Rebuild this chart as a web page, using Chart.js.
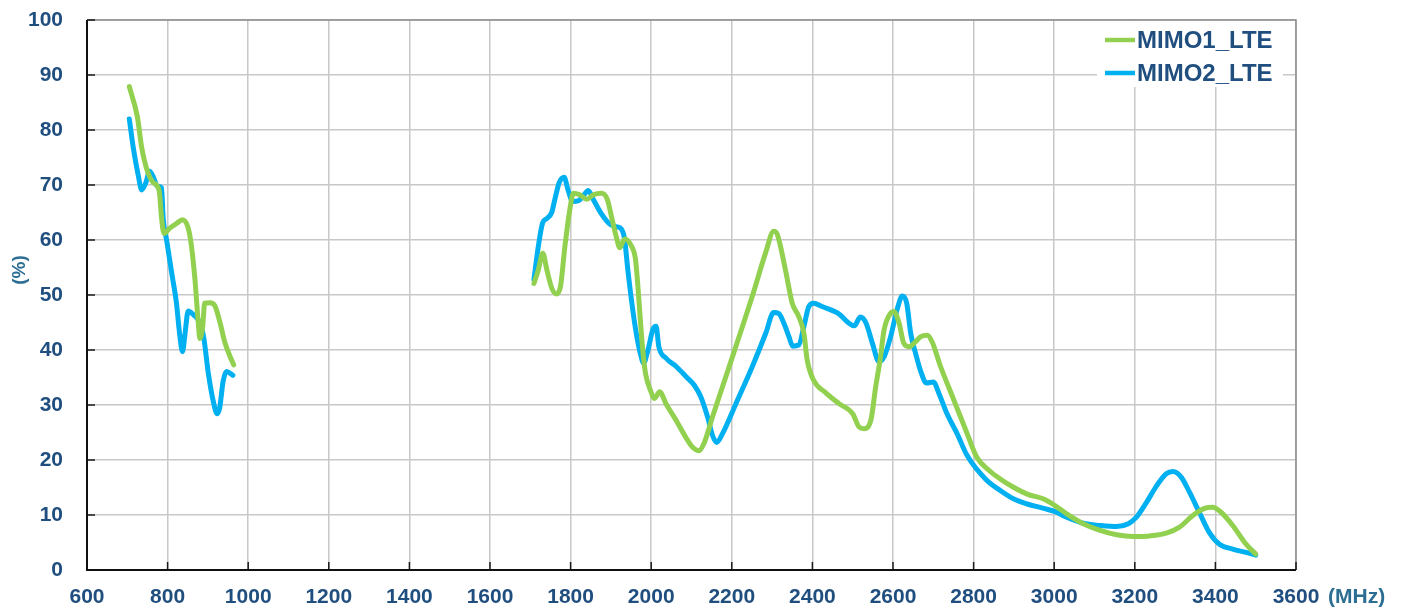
<!DOCTYPE html>
<html>
<head>
<meta charset="utf-8">
<script src="https://cdn.jsdelivr.net/npm/chart.js@4.4.1/dist/chart.umd.min.js"></script>
<style>
  html, body { margin: 0; padding: 0; background: #ffffff; }
  #wrap { width: 1408px; height: 611px; }
</style>
</head>
<body>
<div id="wrap"><canvas id="c" width="1408" height="611"></canvas></div>
<script>
// ---- data (MHz, %) ----
const seriesNames = ['MIMO1_LTE', 'MIMO2_LTE'];
const xTicks = [600, 800, 1000, 1200, 1400, 1600, 1800, 2000, 2200, 2400, 2600, 2800, 3000, 3200, 3400, 3600];
const yTicks = [0, 10, 20, 30, 40, 50, 60, 70, 80, 90, 100];

const mimo1Freq = [705,725,736,750,765,779,785,791,806,822,837,851,859,868,876,880,887,892,905,917,930,942,954,964,
  1300,
  1709,1720,1731,1741,1753,1765,1775,1786,1797,1807,1823,1840,1856,1877,1891,1901,1914,1922,1934,1951,1961,1967,1973,1979,1986,1998,
  2008,2021,2037,2062,2086,2103,2118,2132,2152,2185,2218,2251,2284,2304,2313,2333,2350,2366,2379,2387,2403,2432,2465,2500,
  2516,2528,2545,2557,2568,2578,2594,2602,2615,2627,2640,2656,2668,2685,2697,2718,2751,2784,2808,2840,2867,2900,2933,2974,
  3002,3031,3072,3114,3155,3196,3237,3278,3311,3344,3373,3393,3414,3443,3476,3500];
const mimo1Eff = [87.9,82.4,76.7,72.5,70.4,69.0,64.0,61.2,62.2,63.0,63.7,62.2,59.0,52.7,45.0,42.1,44.2,48.5,48.6,48.1,45.0,41.4,39.0,37.3,
  null,
  52.1,54.6,57.6,54.6,51.3,50.2,51.6,58.9,65.0,68.5,68.2,67.4,68.2,68.5,67.4,64.4,60.4,58.6,60.2,58.9,56.5,51.6,45.5,40.0,35.7,32.7,
  31.2,32.4,30.2,27.2,24.1,22.3,21.7,23.2,27.8,35.1,42.4,49.8,57.7,61.6,61.0,54.6,48.5,46.1,43.0,38.2,34.5,32.3,30.3,28.4,
  26.0,25.7,27.2,33.3,38.2,43.7,46.7,47.0,44.9,41.2,40.6,41.5,42.4,42.7,41.5,37.0,30.9,24.8,20.5,18.0,16.5,15.0,13.8,12.9,
  11.7,10.2,8.4,7.2,6.4,6.1,6.2,6.7,7.8,9.9,11.2,11.4,10.5,8.1,4.7,2.9];

const mimo2Freq = [705,715,727,736,746,755,765,774,785,789,798,810,822,830,837,843,851,864,880,890,901,913,923,929,938,946,962,
  1300,
  1709,1720,1731,1741,1753,1761,1772,1784,1794,1805,1819,1831,1844,1856,1877,1897,1914,1926,1934,1942,1951,1963,1975,1981,1992,
  2004,2012,2019,2037,2062,2086,2107,2123,2140,2152,2162,2177,2210,2251,2284,2304,2317,2329,2342,2351,2366,2379,2391,2403,2424,
  2463,2504,2519,2533,2549,2565,2578,2594,2610,2623,2634,2644,2656,2668,2683,2700,2714,2734,2759,2784,2830,2867,2900,2933,2974,
  3002,3031,3072,3114,3155,3184,3204,3229,3254,3278,3295,3316,3336,3360,3385,3410,3443,3476,3500];
const mimo2Eff = [82.0,76.7,71.8,69.1,70.4,72.5,71.4,69.8,69.5,64.0,59.8,54.1,48.5,42.8,39.7,42.8,47.1,46.4,45.0,42.1,35.8,30.8,28.4,29.4,34.4,36.1,35.4,
  null,
  52.8,58.9,63.2,63.9,65.0,67.4,70.5,71.4,69.0,67.0,67.1,68.0,69.0,67.4,64.7,62.9,62.4,62.0,60.1,54.6,49.1,43.0,38.8,37.6,40.0,
  43.7,44.3,40.6,38.5,37.0,35.2,33.6,31.5,27.8,24.5,23.2,24.8,30.2,37.0,43.0,46.8,46.6,44.9,42.4,40.7,40.9,44.3,47.9,48.5,47.9,
  46.7,44.4,46.0,44.9,41.2,37.9,38.8,42.4,47.3,49.8,48.5,43.0,39.4,36.3,34.0,34.2,32.1,28.4,24.8,20.8,16.5,14.4,12.9,12.0,11.2,
  10.6,9.6,8.5,8.1,7.9,8.4,9.6,12.3,15.3,17.5,17.9,16.8,14.1,10.5,6.8,4.7,3.8,3.2,2.7];

const colors = ['#92D050', '#00B0F0'];
const xUnit = '(MHz)';
const yUnit = '(%)';

function pts(fs, vs) { return fs.map((f, i) => ({ x: f, y: vs[i] })); }

const TEXT = '#1F4E7F';
const UNIT = '#2C6E93';
const GRID = '#C8C8C8';
const FONT = '"Liberation Sans", Arial, sans-serif';

const framePlugin = {
  id: 'frame',
  beforeDatasetsDraw(chart) {
    const ctx = chart.ctx;
    ctx.save();
    ctx.fillStyle = '#ffffff';
    ctx.fillRect(1097, 21, 186, 66);
    ctx.restore();
  },
  afterDraw(chart) {
    const ctx = chart.ctx;
    const a = chart.chartArea;
    const xs = chart.scales.x, ys = chart.scales.y;
    ctx.save();
    // top & right frame (gray)
    ctx.strokeStyle = '#8C8C8C';
    ctx.lineWidth = 1.5;
    ctx.beginPath();
    ctx.moveTo(a.left, a.top); ctx.lineTo(a.right, a.top); ctx.lineTo(a.right, a.bottom);
    ctx.stroke();
    // inner tick marks
    ctx.strokeStyle = '#1A1A1A';
    ctx.lineWidth = 1.5;
    ctx.beginPath();
    xTicks.forEach(v => {
      const px = xs.getPixelForValue(v);
      ctx.moveTo(px, a.bottom); ctx.lineTo(px, a.bottom - 8);
    });
    yTicks.forEach(v => {
      const py = ys.getPixelForValue(v);
      ctx.moveTo(a.left, py); ctx.lineTo(a.left + 8, py);
    });
    ctx.stroke();
    // left & bottom axes (black)
    ctx.strokeStyle = '#111111';
    ctx.lineWidth = 2;
    ctx.beginPath();
    ctx.moveTo(a.left, a.top); ctx.lineTo(a.left, a.bottom); ctx.lineTo(a.right, a.bottom);
    ctx.stroke();

    // legend
    ctx.font = 'bold 24px ' + FONT;
    ctx.textBaseline = 'middle';
    ctx.textAlign = 'left';
    chart.data.datasets.forEach((ds, i) => {
      const y = 40 + i * 33;
      ctx.strokeStyle = ds.borderColor;
      ctx.lineWidth = 4.5;
      ctx.beginPath();
      ctx.moveTo(1105, y); ctx.lineTo(1135, y);
      ctx.stroke();
      ctx.fillStyle = TEXT;
      ctx.fillText(ds.label, 1137, y + 1);
    });

    // unit labels
    ctx.fillStyle = UNIT;
    ctx.font = 'bold 21px ' + FONT;
    ctx.textAlign = 'left';
    ctx.fillText(xUnit, 1328, 597);
    ctx.save();
    ctx.translate(20, 270);
    ctx.rotate(-Math.PI / 2);
    ctx.textAlign = 'center';
    ctx.font = 'bold 19px ' + FONT;
    ctx.fillText(yUnit, 0, 0);
    ctx.restore();
    ctx.restore();
  }
};

new Chart(document.getElementById('c'), {
  type: 'line',
  data: {
    datasets: [
      { label: seriesNames[0], data: pts(mimo1Freq, mimo1Eff), borderColor: colors[0], backgroundColor: colors[0],
        borderWidth: 5, pointRadius: 0, cubicInterpolationMode: 'monotone', spanGaps: false, borderCapStyle: 'round', borderJoinStyle: 'round' },
      { label: seriesNames[1], data: pts(mimo2Freq, mimo2Eff), borderColor: colors[1], backgroundColor: colors[1],
        borderWidth: 5, pointRadius: 0, cubicInterpolationMode: 'monotone', spanGaps: false, borderCapStyle: 'round', borderJoinStyle: 'round' }
    ]
  },
  options: {
    responsive: false,
    animation: false,
    devicePixelRatio: 1,
    layout: { padding: { left: 0, top: 20, right: 112, bottom: 0 } },
    plugins: { legend: { display: false }, tooltip: { enabled: false } },
    scales: {
      x: {
        type: 'linear', min: 600, max: 3600,
        afterBuildTicks: s => { s.ticks = xTicks.map(v => ({ value: v })); },
        afterFit: s => { s.height = 41; s.paddingLeft = 0; s.paddingRight = 0; },
        grid: { color: GRID, lineWidth: 1.5, drawTicks: false },
        border: { display: false },
        ticks: { color: TEXT, padding: 15, maxRotation: 0, autoSkip: false, callback: v => String(v),
                 font: { family: FONT, size: 21, weight: 'bold' } }
      },
      y: {
        type: 'linear', min: 0, max: 100,
        afterBuildTicks: s => { s.ticks = yTicks.map(v => ({ value: v })); },
        afterFit: s => { s.width = 87; s.paddingTop = 0; s.paddingBottom = 0; },
        grid: { color: GRID, lineWidth: 1.5, drawTicks: false },
        border: { display: false },
        ticks: { color: TEXT, padding: 24, autoSkip: false, callback: v => String(v),
                 font: { family: FONT, size: 21, weight: 'bold' } }
      }
    }
  },
  plugins: [framePlugin]
});
</script>
</body>
</html>
